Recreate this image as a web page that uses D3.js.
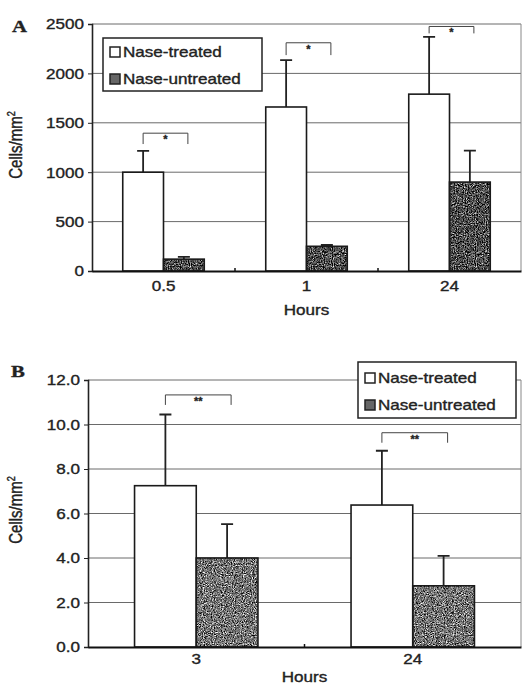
<!DOCTYPE html>
<html lang="en">
<head>
<meta charset="UTF-8">
<title>Nase chart</title>
<script src="https://cdn.jsdelivr.net/npm/d3@7"></script>
<style>
  body { margin: 0; background: #fff; }
  svg { display: block; }
  text { font-family: "Liberation Sans", Arial, sans-serif; fill: #222; stroke: #222; stroke-width: 0.35; }
</style>
</head>
<body>
<svg width="529" height="686"></svg>
<script>
// ---- data ----
// panel A
const hoursA = ['0.5', '1', '24'];
const treatedA = [1000, 1660, 1790];
const treatedSdA = [215, 475, 580];
const untreatedA = [120, 250, 900];
const untreatedSdA = [22, 13, 318];
const ticksA = [0, 500, 1000, 1500, 2000, 2500];
const sigTopA = [1395, 2310, 2475];
const sigLegA = [1285, 2185, 2405];
const sigTextA = ['*', '*', '*'];

// panel B
const hoursB = ['3', '24'];
const treatedB = [7.25, 6.38];
const treatedSdB = [3.2, 2.44];
const untreatedB = [4.0, 2.75];
const untreatedSdB = [1.52, 1.35];
const ticksB = [0, 2, 4, 6, 8, 10, 12];
const sigTopB = [11.33, 9.63];
const sigLegB = [10.88, 9.18];
const sigTextB = ['**', '**'];

const seriesNames = ['Nase-treated', 'Nase-untreated'];

const svg = d3.select('svg');
const SX = 1.22; // the scan is stretched sideways, so text is too

// speckled grey for the untreated bars
const defs = svg.append('defs');
function speckle(id, gain, off) {
  const f = defs.append('filter').attr('id', id)
    .attr('color-interpolation-filters', 'sRGB')
    .attr('x', 0).attr('y', 0).attr('width', 1).attr('height', 1);
  f.append('feTurbulence').attr('type', 'fractalNoise')
    .attr('baseFrequency', 0.9).attr('numOctaves', 2).attr('seed', 3).attr('result', 'n');
  const row = `${gain} ${gain} ${gain} 0 ${off}`;
  f.append('feColorMatrix').attr('in', 'n').attr('type', 'matrix')
    .attr('values', `${row}  ${row}  ${row}  0 0 0 0 1`)
    .attr('result', 'g');
  f.append('feComposite').attr('in', 'g').attr('in2', 'SourceAlpha').attr('operator', 'in');
}
speckle('speckleA', 1.0, -1.2);
speckle('speckleB', 1.0, -1.05);

function stretchText(sel, x, y) {
  // put text at x,y and widen it by SX around that point
  sel.attr('transform', `translate(${x},${y}) scale(${SX},1)`);
}

function drawPanel(o) {
  const g = svg.append('g');
  const x0 = d3.scaleBand().domain(o.cats).range([o.left, o.right])
    .paddingInner(o.padIn).paddingOuter(o.padIn / 2);
  const x1 = d3.scaleBand().domain(seriesNames).range([0, x0.bandwidth()]);
  const y = d3.scaleLinear().domain([0, o.max]).range([o.bottom, o.top]);

  // grid
  g.selectAll('.grid').data(o.ticks.slice(1)).enter().append('line')
    .attr('x1', o.left).attr('x2', o.right)
    .attr('y1', d => y(d)).attr('y2', d => y(d))
    .attr('stroke', '#6a6a6a').attr('stroke-width', 1);
  g.append('line').attr('x1', o.right).attr('x2', o.right)
    .attr('y1', y(o.max)).attr('y2', o.bottom)
    .attr('stroke', '#888').attr('stroke-width', 1);

  // y axis
  const ya = g.append('g').attr('transform', `translate(${o.left},0)`)
    .call(d3.axisLeft(y).tickValues(o.ticks).tickFormat(o.fmt).tickSize(4).tickPadding(4));
  ya.select('.domain').attr('stroke', '#222').attr('stroke-width', 1.6);
  ya.selectAll('.tick line').attr('stroke', '#222');
  ya.selectAll('.tick text').attr('font-size', 14).attr('x', null)
    .each(function () {
      const t = d3.select(this);
      t.attr('dy', '0.35em');
      stretchText(t, -8, 0);
    });

  // bars
  const rows = o.cats.map((c, i) => ({
    cat: c,
    vals: [
      { s: seriesNames[0], v: o.treated[i], sd: o.treatedSd[i] },
      { s: seriesNames[1], v: o.untreated[i], sd: o.untreatedSd[i] }
    ]
  }));
  const grp = g.selectAll('.cat').data(rows).enter().append('g')
    .attr('transform', d => `translate(${x0(d.cat)},0)`);

  // error bars (upper only)
  grp.selectAll('.err').data(d => d.vals).enter().append('path')
    .attr('d', d => {
      const cx = x1(d.s) + x1.bandwidth() / 2;
      return `M${cx},${y(d.v)}V${y(d.v + d.sd)}M${cx - 6},${y(d.v + d.sd)}H${cx + 6}`;
    })
    .attr('stroke', '#222').attr('stroke-width', 1.8).attr('fill', 'none');

  grp.selectAll('.barfill').data(d => d.vals).enter().append('rect')
    .attr('x', d => x1(d.s)).attr('width', x1.bandwidth())
    .attr('y', d => y(d.v)).attr('height', d => o.bottom - y(d.v))
    .attr('fill', (d, i) => i === 0 ? '#fff' : '#666')
    .attr('filter', (d, i) => i === 0 ? null : `url(#${o.speckle})`);
  grp.selectAll('.barline').data(d => d.vals).enter().append('rect')
    .attr('x', d => x1(d.s)).attr('width', x1.bandwidth())
    .attr('y', d => y(d.v)).attr('height', d => o.bottom - y(d.v))
    .attr('fill', 'none').attr('stroke', '#1a1a1a').attr('stroke-width', 1.6);

  // significance brackets
  grp.append('path')
    .attr('d', (d, i) => {
      const a = x1(seriesNames[0]) + x1.bandwidth() / 2;
      const b = x1(seriesNames[1]) + x1.bandwidth() / 2 + 4;
      return `M${a},${y(o.sigLeg[i])}V${y(o.sigTop[i])}H${b}V${y(o.sigLeg[i])}`;
    })
    .attr('stroke', '#444').attr('stroke-width', 1).attr('fill', 'none');
  grp.append('text')
    .attr('x', x0.bandwidth() / 2 + 2).attr('y', (d, i) => y(o.sigTop[i]) + 10)
    .attr('text-anchor', 'middle').attr('font-size', 11).attr('font-weight', 'bold')
    .text((d, i) => o.sig[i]);

  // x axis
  const xa = g.append('g').attr('transform', `translate(0,${o.bottom})`)
    .call(d3.axisBottom(x0).tickSize(0).tickPadding(o.xPad));
  xa.select('.domain').attr('stroke', '#111').attr('stroke-width', 2.2);
  xa.selectAll('.tick text').attr('font-size', 14).each(function () {
    const t = d3.select(this);
    const yy = +t.attr('y');
    t.attr('y', null);
    stretchText(t, 0, yy);
  });
  // small ticks between the groups
  g.selectAll('.sep').data(o.cats.slice(1)).enter().append('line')
    .attr('x1', d => x0(d) - x0.step() * o.padIn / 2).attr('x2', d => x0(d) - x0.step() * o.padIn / 2)
    .attr('y1', o.bottom).attr('y2', o.bottom - 3)
    .attr('stroke', '#111').attr('stroke-width', 1.5);

  // axis titles
  const xt = g.append('text').attr('text-anchor', 'middle').attr('font-size', 14)
    .attr('dy', '0.35em').text('Hours');
  stretchText(xt, (o.left + o.right) / 2, o.xTitleY);

  const yt = g.append('text').attr('text-anchor', 'middle').attr('font-size', 15)
    .attr('transform', `translate(${o.yTitleX},${o.yTitleY}) rotate(-90) scale(1,${SX})`);
  yt.append('tspan').text('Cells/mm');
  yt.append('tspan').attr('dy', -6).attr('font-size', 9).text('2');

  // panel letter
  const pl = g.append('text')
    .style('font-family', '"Liberation Serif", "DejaVu Serif", serif')
    .attr('font-weight', 'bold').attr('font-size', 17).text(o.letter);
  stretchText(pl, o.letterX, o.letterY);

  // legend
  const lg = g.append('g').attr('transform', `translate(${o.legX},${o.legY})`);
  lg.append('rect').attr('width', o.legW).attr('height', o.legH)
    .attr('fill', '#fff').attr('stroke', '#222').attr('stroke-width', 1.5);
  seriesNames.forEach((s, i) => {
    const cy = o.legRow[i];
    lg.append('rect').attr('x', 7).attr('y', cy - 5).attr('width', 10).attr('height', 10)
      .attr('fill', i === 0 ? '#fff' : '#666').attr('stroke', '#222').attr('stroke-width', 1.5);
    const t = lg.append('text').attr('font-size', 14).attr('dy', '0.35em').text(s);
    stretchText(t, 20, cy);
  });
}

drawPanel({
  cats: hoursA, treated: treatedA, treatedSd: treatedSdA,
  untreated: untreatedA, untreatedSd: untreatedSdA,
  ticks: ticksA, max: 2500, fmt: d3.format('d'),
  sigTop: sigTopA, sigLeg: sigLegA, sig: sigTextA, speckle: 'speckleA',
  left: 92, right: 521, top: 24, bottom: 271, padIn: 0.43,
  xPad: 10, xTitleY: 310, yTitleX: 22, yTitleY: 145,
  letter: 'A', letterX: 12, letterY: 32,
  legX: 103, legY: 38, legW: 159, legH: 53, legRow: [14, 41]
});

drawPanel({
  cats: hoursB, treated: treatedB, treatedSd: treatedSdB,
  untreated: untreatedB, untreatedSd: untreatedSdB,
  ticks: ticksB, max: 12, fmt: d3.format('.1f'),
  sigTop: sigTopB, sigLeg: sigLegB, sig: sigTextB, speckle: 'speckleB',
  left: 88, right: 521, top: 380, bottom: 647, padIn: 0.43,
  xPad: 7, xTitleY: 677, yTitleX: 22, yTitleY: 510,
  letter: 'B', letterX: 11, letterY: 377,
  legX: 358, legY: 362, legW: 158, legH: 56, legRow: [16, 43]
});
</script>
</body>
</html>
